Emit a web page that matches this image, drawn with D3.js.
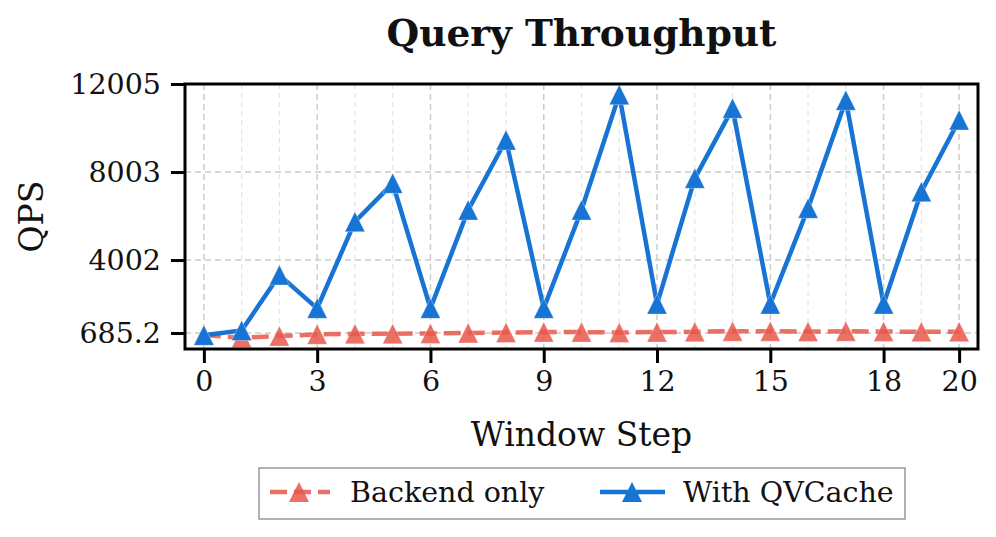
<!DOCTYPE html>
<html>
<head>
<meta charset="utf-8">
<script src="https://cdn.jsdelivr.net/npm/d3@7"></script>
<style>
  html, body { margin: 0; padding: 0; background: #fff; }
  svg { display: block; }
  text { font-family: "DejaVu Serif", serif; fill: #111; }
</style>
</head>
<body>
<svg id="chart" width="996" height="537"></svg>
<script>
const steps = d3.range(0, 21);
const backendOnly = [590, 470, 546, 623, 646, 650, 668, 690, 705, 728, 728, 705, 728, 740, 765, 765, 750, 765, 750, 743, 745];
const withQVCache = [580, 800, 3320, 1806, 5744, 7490, 1806, 6276, 9459, 1806, 6276, 11520, 2000, 7717, 10900, 2000, 6353, 11264, 2000, 7108, 10368];
const xTicks = [0, 3, 6, 9, 12, 15, 18, 20];
const yTicks = [685.2, 4002, 8003, 12005];
const yTickLabels = ["685.2", "4002", "8003", "12005"];
const seriesNames = ["Backend only", "With QVCache"];
const title = "Query Throughput";
const xLabel = "Window Step";
const yLabel = "QPS";

const svg = d3.select("#chart");
const L = 185, R = 978, T = 84, B = 349;
const x = d3.scaleLinear().domain([-0.5, 20.5]).range([L, R]);
const y = d3.scaleLinear().domain([-42, 12005]).range([B, T]);

const red = "#E8574A", blue = "#1874D4";

// grid
const g = svg.append("g");
g.selectAll("line.vminor").data(steps.filter(s => !xTicks.includes(s))).join("line")
  .attr("x1", d => x(d)).attr("x2", d => x(d)).attr("y1", T).attr("y2", B)
  .attr("stroke", "#e4e4e4").attr("stroke-width", 1.2).attr("stroke-dasharray", "5,4");
g.selectAll("line.vmajor").data(xTicks).join("line")
  .attr("x1", d => x(d)).attr("x2", d => x(d)).attr("y1", T).attr("y2", B)
  .attr("stroke", "#cccccc").attr("stroke-width", 1.5).attr("stroke-dasharray", "6,4");
g.selectAll("line.h").data(yTicks).join("line")
  .attr("x1", L).attr("x2", R).attr("y1", d => y(d)).attr("y2", d => y(d))
  .attr("stroke", "#cccccc").attr("stroke-width", 1.5).attr("stroke-dasharray", "6,4");

// triangle symbol
function tri(cx, cy, s) {
  const h = s / 2;
  return `M${cx},${cy - h}L${cx - h},${cy + h}L${cx + h},${cy + h}Z`;
}

const line = d3.line().x((d, i) => x(steps[i])).y(d => y(d));

// backend only
svg.append("path").datum(backendOnly).attr("d", line)
  .attr("fill", "none").attr("stroke", red).attr("stroke-opacity", 0.85)
  .attr("stroke-width", 4.5).attr("stroke-dasharray", "17,7");
svg.append("g").selectAll("path").data(backendOnly).join("path")
  .attr("d", (d, i) => tri(x(steps[i]), y(d), 20))
  .attr("fill", red).attr("fill-opacity", 0.85)
  .attr("stroke", "#fff").attr("stroke-opacity", 0.4).attr("stroke-width", 0.8);

// with QVCache
svg.append("path").datum(withQVCache).attr("d", line)
  .attr("fill", "none").attr("stroke", blue).attr("stroke-width", 4.5)
  .attr("stroke-linejoin", "miter");
svg.append("g").selectAll("path").data(withQVCache).join("path")
  .attr("d", (d, i) => tri(x(steps[i]), y(d), 20))
  .attr("fill", blue)
  .attr("stroke", "#fff").attr("stroke-opacity", 0.4).attr("stroke-width", 0.8);

// axes
const xAxis = d3.axisBottom(x).tickValues(xTicks).tickSize(14).tickPadding(8).tickFormat(d3.format("d"));
const yAxis = d3.axisLeft(y).tickValues(yTicks).tickSize(14).tickPadding(10)
  .tickFormat((d, i) => yTickLabels[i]);
const gx = svg.append("g").attr("transform", `translate(0,${B})`).call(xAxis);
const gy = svg.append("g").attr("transform", `translate(${L},0)`).call(yAxis);
[gx, gy].forEach(a => {
  a.select(".domain").remove();
  a.selectAll(".tick line").attr("stroke", "#000").attr("stroke-width", 3);
  a.selectAll(".tick text").attr("font-family", "DejaVu Serif").attr("font-size", 28.5).attr("fill", "#111");
});

// spines
svg.append("rect").attr("x", L).attr("y", T).attr("width", R - L).attr("height", B - T)
  .attr("fill", "none").attr("stroke", "#000").attr("stroke-width", 3);

// title + labels
svg.append("text").attr("x", (L + R) / 2).attr("y", 46).attr("text-anchor", "middle")
  .attr("font-size", 37.5).attr("font-weight", "bold").text(title);
svg.append("text").attr("x", (L + R) / 2).attr("y", 446).attr("text-anchor", "middle")
  .attr("font-size", 33).text(xLabel);
svg.append("text").attr("transform", `translate(43,${(T + B) / 2}) rotate(-90)`)
  .attr("text-anchor", "middle").attr("font-size", 33).text(yLabel);

// legend
const lg = svg.append("g");
lg.append("rect").attr("x", 259).attr("y", 468).attr("width", 646).attr("height", 51)
  .attr("fill", "#fff").attr("stroke", "#999").attr("stroke-width", 1.5);
const ly = 492;
lg.append("line").attr("x1", 270).attr("x2", 330).attr("y1", ly).attr("y2", ly)
  .attr("stroke", red).attr("stroke-opacity", 0.85).attr("stroke-width", 4.5).attr("stroke-dasharray", "17,7");
lg.append("path").attr("d", tri(299, ly, 20)).attr("fill", red).attr("fill-opacity", 0.85);
lg.append("text").attr("x", 350).attr("y", ly + 10).attr("font-size", 28.5).text(seriesNames[0]);
lg.append("line").attr("x1", 600).attr("x2", 665).attr("y1", ly).attr("y2", ly)
  .attr("stroke", blue).attr("stroke-width", 4.5);
lg.append("path").attr("d", tri(632, ly, 20)).attr("fill", blue);
lg.append("text").attr("x", 683).attr("y", ly + 10).attr("font-size", 28.5).text(seriesNames[1]);
</script>
</body>
</html>
